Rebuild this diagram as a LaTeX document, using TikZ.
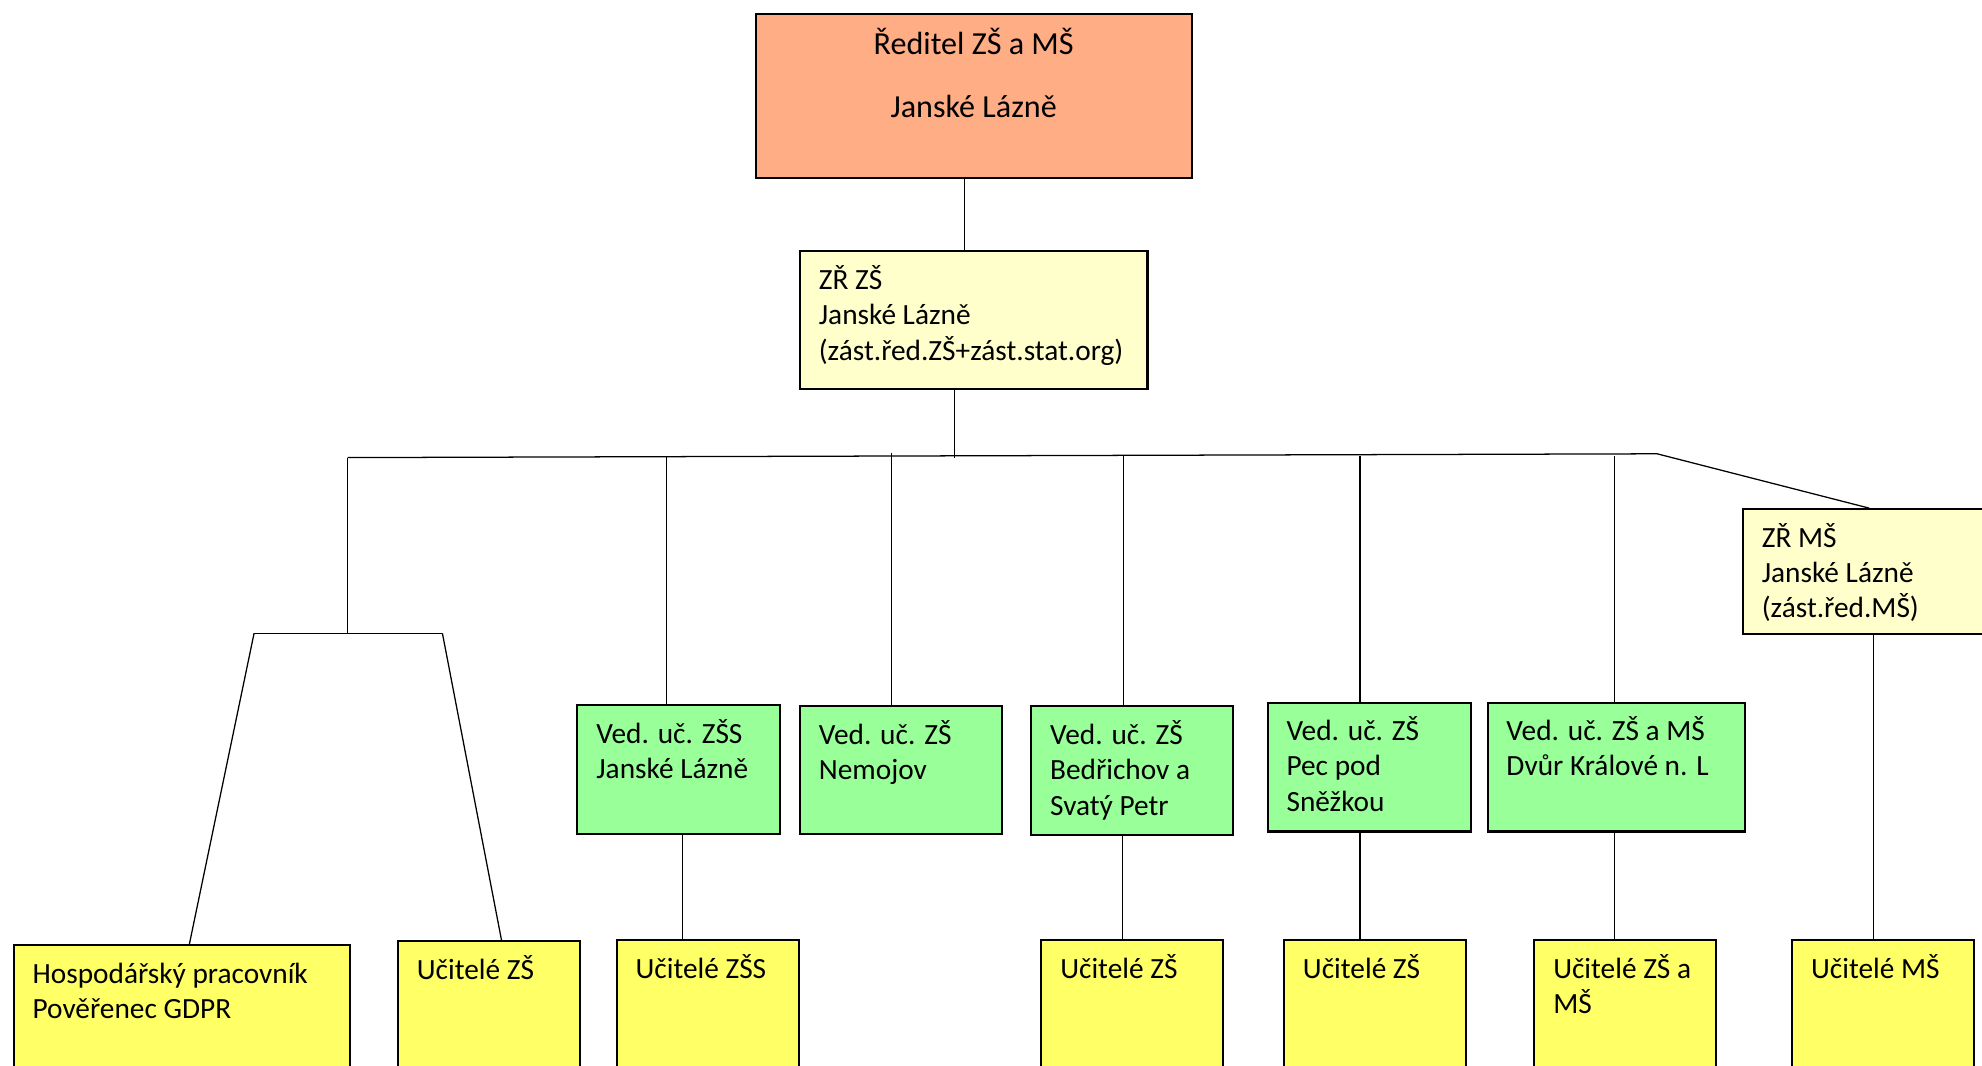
\documentclass[tikz,border=0pt]{standalone}
\usepackage{fontspec}
\setmainfont{Carlito}
\hyphenpenalty=10000
\definecolor{dirfill}{HTML}{FFAD85}
\definecolor{zrfill}{HTML}{FFFFCC}
\definecolor{vedfill}{HTML}{99FF99}
\definecolor{ucfill}{HTML}{FFFF66}
\begin{document}
\begin{tikzpicture}[x=0.5pt, y=-0.5pt,
  box/.style={rectangle, draw, line width=0.8pt, anchor=north west, align=flush left, inner xsep=7.5pt, inner ysep=5pt, text height=10pt, font=\fontsize{11.6pt}{14pt}\selectfont},
  ved/.style={box, fill=vedfill, text width=65pt, text depth=31pt},
  uc/.style={box, fill=ucfill, text width=57pt, text depth=50pt},
  link/.style={line width=0.5pt}]
  \clip (0,0) rectangle (1568,843);
  \node[box, fill=dirfill, align=flush center, text width=157.5pt, text height=11.25pt, text depth=43.75pt, font=\fontsize{12.7pt}{25pt}\selectfont] (dir) at (597,10) {Ředitel ZŠ a MŠ\\Janské Lázně};
  \node[box, fill=zrfill, text width=122.5pt, text depth=34.5pt] (zrzs) at (632,198) {ZŘ ZŠ\\Janské Lázně\\(zást.řed.ZŠ+zást.stat.org)};
  \node[box, fill=zrfill, text width=85pt, text depth=29.5pt] (zrms) at (1378,402) {ZŘ MŠ\\Janské Lázně\\(zást.řed.MŠ)};
  \node[ved] (g1) at (456,557) {Ved. uč. ZŠS\\Janské Lázně};
  \node[ved, text depth=30.5pt] (g2) at (632,558) {Ved. uč. ZŠ\\Nemojov};
  \node[ved] (g3) at (815,558) {Ved. uč. ZŠ\\Bedřichov a\\Svatý Petr};
  \node[ved, text width=65.5pt] (g4) at (1002,555) {Ved. uč. ZŠ\\Pec pod\\Sněžkou};
  \node[ved, text width=87pt] (g5) at (1176,555) {Ved. uč. ZŠ a MŠ\\Dvůr Králové n. L};
  \node[uc, text width=118pt] (y1) at (10,747) {Hospodářský pracovník\\Pověřenec GDPR};
  \node[uc] (y2) at (314,744) {Učitelé ZŠ};
  \node[uc] (y3) at (487,743) {Učitelé ZŠS};
  \node[uc] (y4) at (823,743) {Učitelé ZŠ};
  \node[uc] (y5) at (1015,743) {Učitelé ZŠ};
  \node[uc] (y6) at (1213,743) {Učitelé ZŠ a\\MŠ};
  \node[uc] (y7) at (1417,743) {Učitelé MŠ};

  \coordinate (busL) at (275,362);
  \coordinate (busR) at (1311,359);
  \coordinate (fork) at (275,501);
  \coordinate (forkL) at (201,501);
  \coordinate (forkR) at (350,501);
  \coordinate (xdir) at (763,0);
  \coordinate (xzr) at (755,0);
  \coordinate (b1) at (527,361);
  \coordinate (b2) at (705,358);
  \coordinate (b3) at (889,361);
  \coordinate (b4) at (1076,361);
  \coordinate (b5) at (1277,361);
  \coordinate (l1) at (540,0);
  \coordinate (l3) at (888,0);
  \coordinate (l4) at (1076,0);
  \coordinate (l5) at (1277,0);
  \coordinate (l6) at (1482,0);

  \draw[link] (dir.south -| xdir) -- (zrzs.north -| xdir);
  \draw[link] (zrzs.south -| xzr) -- (xzr |- busL);
  \draw[link] (busL) -- (busR) -- (zrms.north);
  \draw[link] (busL) -- (fork);
  \draw[link] (forkL) -- (forkR);
  \draw[link] (forkL) -- ([xshift=3pt]y1.north);
  \draw[link] (forkR) -- ([xshift=5pt]y2.north);
  \draw[link] (b1) -- (g1.north -| b1);
  \draw[link] (b2) -- (g2.north -| b2);
  \draw[link] (b3) -- (g3.north -| b3);
  \draw[link] (b4) -- (g4.north -| b4);
  \draw[link] (b5) -- (g5.north -| b5);
  \draw[link] (g1.south -| l1) -- (y3.north -| l1);
  \draw[link] (g3.south -| l3) -- (y4.north -| l3);
  \draw[link] (g4.south -| l4) -- (y5.north -| l4);
  \draw[link] (g5.south -| l5) -- (y6.north -| l5);
  \draw[link] (zrms.south -| l6) -- (y7.north -| l6);
\end{tikzpicture}
\end{document}
